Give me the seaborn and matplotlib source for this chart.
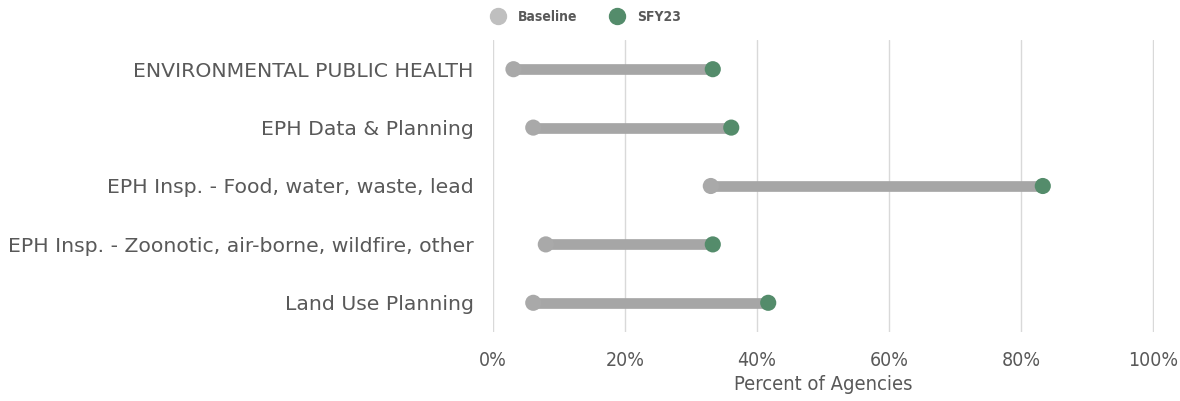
import matplotlib
matplotlib.use("Agg")
import matplotlib.pyplot as plt
import seaborn as sns
import pandas as pd
from matplotlib.lines import Line2D
from matplotlib.ticker import PercentFormatter

categories = [
    "ENVIRONMENTAL PUBLIC HEALTH",
    "EPH Data & Planning",
    "EPH Insp. - Food, water, waste, lead",
    "EPH Insp. - Zoonotic, air-borne, wildfire, other",
    "Land Use Planning",
]
baseline = [0.031, 0.061, 0.330, 0.080, 0.061]
sfy23 = [0.333, 0.361, 0.833, 0.333, 0.417]
series_names = ["Baseline", "SFY23"]
xticks = [0, 0.2, 0.4, 0.6, 0.8, 1.0]

GRAY_LINE = "#a6a6a6"
GRAY_PT = "#a9a9a9"
GRAY_LEG = "#bfbfbf"
GREEN = "#548c6b"
TXT = "#595959"

sns.set_theme(style="white")
plt.rcParams["font.family"] = ["DejaVu Sans"]

df = pd.DataFrame({"category": categories * 2,
                   "value": baseline + sfy23,
                   "series": [series_names[0]] * len(categories) + [series_names[1]] * len(categories)})

fig = plt.figure(figsize=(11.8, 4.01), dpi=100)
ax = fig.add_axes([493 / 1180, 1 - 332 / 401, 661 / 1180, 292 / 401])

ypos = list(range(len(categories)))
ax.hlines(ypos, baseline, sfy23, color=GRAY_LINE, linewidth=7.7, zorder=2)
sns.scatterplot(data=df, x="value", y="category", hue="series",
                palette={"Baseline": GRAY_PT, "SFY23": GREEN},
                s=135, linewidth=0, legend=False, ax=ax, zorder=3)

ax.set_xlim(0, 1.0015)
ax.set_ylim(len(categories) - 0.5, -0.5)
ax.set_xticks(xticks)
ax.xaxis.set_major_formatter(PercentFormatter(1.0, decimals=0))
ax.grid(axis="x", color="#d9d9d9", linewidth=1)
ax.set_axisbelow(True)
for s in ax.spines.values():
    s.set_visible(False)
ax.tick_params(axis="both", length=0)
ax.tick_params(axis="x", pad=14)
ax.tick_params(axis="y", pad=14)
for lab in ax.get_xticklabels():
    lab.set_fontstretch("condensed")
    lab.set_fontsize(14)
    lab.set_color(TXT)
for lab in ax.get_yticklabels():
    lab.set_fontsize(14.7)
    lab.set_color(TXT)
ax.set_ylabel("")
ax.set_xlabel("Percent of Agencies", fontsize=14.5, color=TXT,
              fontstretch="condensed", labelpad=3)

handles = [Line2D([], [], marker="o", linestyle="", markersize=11.5, color=GRAY_LEG),
           Line2D([], [], marker="o", linestyle="", markersize=11.5, color=GREEN)]
fig.legend(handles, series_names, loc="center", bbox_to_anchor=(0.4935, 1 - 17 / 401),
           ncol=2, frameon=False, handletextpad=0.4, columnspacing=1.9,
           prop={"weight": "bold", "size": 10, "stretch": "condensed"},
           labelcolor=TXT)

fig.savefig("out.png", dpi=100)
